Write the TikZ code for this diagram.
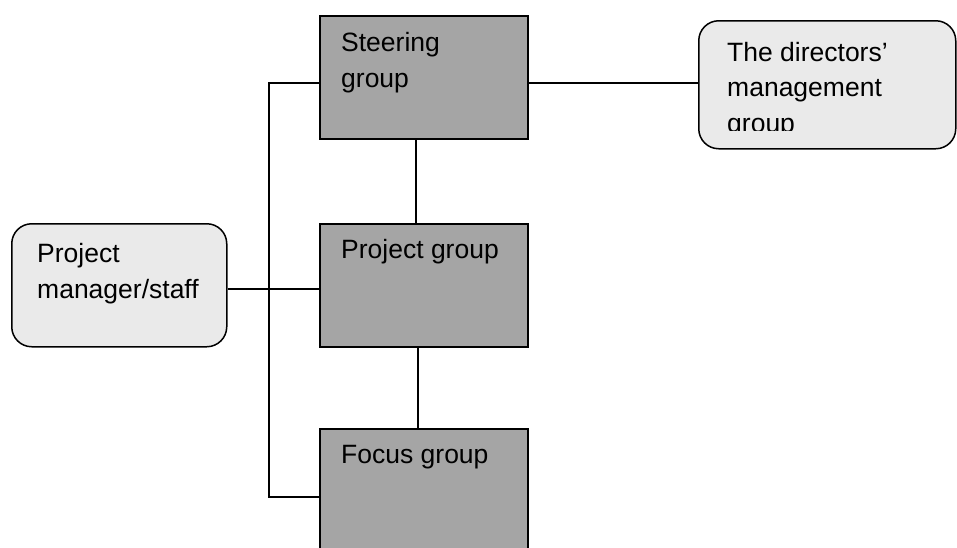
\documentclass[tikz,border=0pt]{standalone}
\usepackage{fontspec}
\setmainfont{Liberation Sans}
\definecolor{darkbox}{RGB}{165,165,165}
\definecolor{lightbox}{RGB}{234,234,234}
\begin{document}
\begin{tikzpicture}[x=1pt,y=-1pt,
  gbox/.style={draw=black,line width=1.5pt,fill=darkbox,minimum width=208pt,minimum height=123pt,inner sep=0pt,anchor=north west},
  rbox/.style={draw=black,line width=1.5pt,fill=lightbox,rounded corners=20pt,inner sep=0pt,anchor=north west},
  lbl/.style={inner sep=0pt,anchor=base west,align=left,font=\fontsize{26.5}{35.5}\selectfont},
  conn/.style={draw=black,line width=1.5pt}]
\clip (0,0) rectangle (957,547);
\fill[white] (0,0) rectangle (957,547);
% boxes
\node[gbox] (steering) at (319,15) {};
\node[gbox] (project) at (319,223) {};
\node[gbox] (focus) at (319,428) {};
\node[rbox,minimum width=215pt,minimum height=123pt] (pm) at (11,223) {};
\node[rbox,minimum width=257pt,minimum height=128pt] (dir) at (698,20) {};
% labels (anchor is the baseline of the last line)
\node[lbl] (tsteer) at (341,87) {Steering\\group};
\node[lbl] (tproj) at (341,258) {Project group};
\node[lbl] (tfocus) at (341,463) {Focus group};
\node[lbl] (tpm) at (37,298) {Project\\manager/staff};
\begin{scope}
\clip (698,20) rectangle (955,130);
\node[lbl] (tdir) at (727,132) {The directors’\\management\\group};
\end{scope}
% junction coordinates
\coordinate (jtop) at (269,83);
\coordinate (jmid) at (269,289);
\coordinate (jbot) at (269,497);
\coordinate (v1) at (416,0);
\coordinate (v2) at (418,0);
% connectors
\draw[conn] (steering.west |- jtop) -- (jtop) -- (jbot) -- (focus.west |- jbot);
\draw[conn] (pm.east |- jmid) -- (project.west |- jmid);
\draw[conn] (steering.east |- jtop) -- (dir.west |- jtop);
\draw[conn] (v1 |- steering.south) -- (v1 |- project.north);
\draw[conn] (v2 |- project.south) -- (v2 |- focus.north);
\end{tikzpicture}
\end{document}
